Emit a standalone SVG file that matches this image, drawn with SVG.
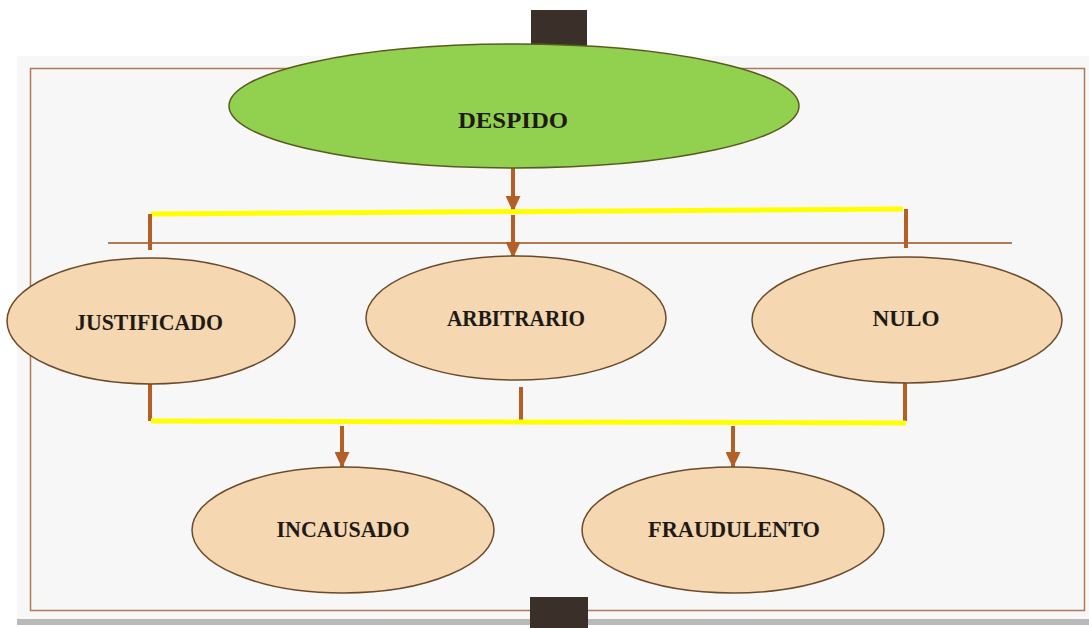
<svg xmlns="http://www.w3.org/2000/svg" width="1089" height="628" viewBox="0 0 1089 628">
<defs>
<style>
.lbl{font-family:"Liberation Serif","Times New Roman",serif;font-weight:bold;font-size:23px;fill:#1f1a16;text-anchor:middle}
.node{fill:#f5d7b1;stroke:#6b4a2a;stroke-width:1.5}
.brown{stroke:#b55f28;stroke-width:4;fill:none}
.yellow{stroke:#ffff00;stroke-width:5;fill:none}
.bar{fill:#3a2f29}
</style>
<marker id="ah" viewBox="0 0 16 15" refX="15" refY="7.5" markerWidth="16" markerHeight="15" orient="auto" markerUnits="userSpaceOnUse">
<path d="M0,0 L16,7.5 L0,15 z" fill="#b55f28"/>
</marker>
</defs>
<rect width="1089" height="628" fill="#ffffff"/>
<rect x="17" y="56" width="1072" height="563" fill="#f7f7f7"/>
<rect x="17" y="619" width="1072" height="6" fill="#b9b9b9"/>
<rect x="30.5" y="68.5" width="1054" height="542" fill="none" stroke="#b07a55" stroke-width="1.5"/>
<rect class="bar" x="531" y="10" width="56" height="40"/>
<rect class="bar" x="530" y="597" width="58" height="31"/>
<line x1="108" y1="243" x2="1012" y2="243" stroke="#b07a55" stroke-width="2"/>
<g id="connectors">
<line class="brown" x1="513" y1="168" x2="513" y2="211" marker-end="url(#ah)"/>
<line class="yellow" x1="151" y1="214" x2="903" y2="209"/>
<line class="brown" x1="150" y1="214" x2="150" y2="250"/>
<line class="brown" x1="906" y1="209" x2="906" y2="248"/>
<line class="brown" x1="513" y1="215" x2="513" y2="257" marker-end="url(#ah)"/>
<line class="brown" x1="150" y1="383" x2="150" y2="421"/>
<line class="brown" x1="521" y1="387" x2="521" y2="423"/>
<line class="brown" x1="905" y1="382" x2="905" y2="421"/>
<line class="yellow" x1="151" y1="421" x2="906" y2="423"/>
<line class="brown" x1="342" y1="426" x2="342" y2="467" marker-end="url(#ah)"/>
<line class="brown" x1="733" y1="426" x2="733" y2="467" marker-end="url(#ah)"/>
</g>
<g id="despido">
<ellipse cx="514" cy="106" rx="285" ry="62" fill="#92d050" stroke="#5b5a1e" stroke-width="1.5"/>
<text class="lbl" x="513" y="128" textLength="110" lengthAdjust="spacingAndGlyphs">DESPIDO</text>
</g>
<g id="justificado">
<ellipse class="node" cx="151" cy="321" rx="144" ry="63"/>
<text class="lbl" x="149" y="330" textLength="148" lengthAdjust="spacingAndGlyphs">JUSTIFICADO</text>
</g>
<g id="arbitrario">
<ellipse class="node" cx="516" cy="318" rx="150" ry="62"/>
<text class="lbl" x="516" y="326" textLength="138" lengthAdjust="spacingAndGlyphs">ARBITRARIO</text>
</g>
<g id="nulo">
<ellipse class="node" cx="907" cy="320" rx="155" ry="63"/>
<text class="lbl" x="906" y="326" textLength="67" lengthAdjust="spacingAndGlyphs">NULO</text>
</g>
<g id="incausado">
<ellipse class="node" cx="343" cy="530" rx="151" ry="63"/>
<text class="lbl" x="343" y="537" textLength="133" lengthAdjust="spacingAndGlyphs">INCAUSADO</text>
</g>
<g id="fraudulento">
<ellipse class="node" cx="733" cy="530" rx="151" ry="63"/>
<text class="lbl" x="734" y="537" textLength="172" lengthAdjust="spacingAndGlyphs">FRAUDULENTO</text>
</g>
</svg>
